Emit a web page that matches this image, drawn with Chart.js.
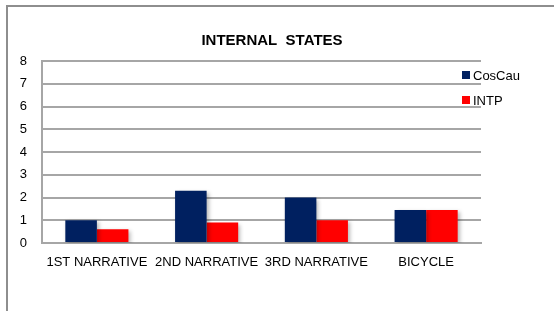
<!DOCTYPE html>
<html>
<head>
<meta charset="utf-8">
<script src="https://cdn.jsdelivr.net/npm/chart.js@4"></script>
<style>
  html, body { margin: 0; padding: 0; background: #fff; }
  #wrap { position: relative; width: 554px; height: 311px; overflow: hidden; }
  #frame { position: absolute; left: 6px; top: 5px; width: 600px; height: 400px;
           border: 2px solid #8e8e8e; box-sizing: border-box; }
  canvas { position: absolute; left: 0; top: 0; }
</style>
</head>
<body>
<div id="wrap">
  <div id="frame"></div>
  <canvas id="chart" width="554" height="311"></canvas>
</div>
<script>
/* Internal states chart — two series per narrative */
const categories = ["1ST NARRATIVE", "2ND NARRATIVE", "3RD NARRATIVE", "BICYCLE"];
const cosCau = [1.0, 2.3, 2.0, 1.45];
const intp = [0.6, 0.9, 1.0, 1.45];
const yTicks = [0, 1, 2, 3, 4, 5, 6, 7, 8];
const titleText = "INTERNAL  STATES";

const FONT = "'Liberation Sans', Arial, sans-serif";
const GRID = "#a6a6a6";

/* ---------- title + legend drawn by hand (the title sits over the whole frame) ---------- */
const overlay = {
  id: "overlay",
  afterDraw(chart) {
    const ctx = chart.ctx;
    ctx.save();
    ctx.fillStyle = "#000";
    ctx.font = "bold 15px " + FONT;
    ctx.textAlign = "center";
    ctx.textBaseline = "middle";
    ctx.fillText(titleText, 272, 41);

    ctx.font = "13px " + FONT;
    ctx.textAlign = "left";
    chart.data.datasets.forEach((ds, i) => {
      const y = 75 + i * 25;
      ctx.fillStyle = ds.backgroundColor;
      ctx.fillRect(462, y - 4, 8, 8);
      ctx.fillStyle = "#000";
      ctx.fillText(ds.label, 473, y + 1);
    });
    ctx.restore();
  },
};

/* ---------- soft shadow under bars ---------- */
const barShadow = {
  id: "barShadow",
  beforeDatasetsDraw(chart) {
    const ctx = chart.ctx;
    ctx.save();
    ctx.shadowColor = "rgba(0,0,0,0.28)";
    ctx.shadowBlur = 4;
    ctx.shadowOffsetX = 2;
    ctx.shadowOffsetY = 2;
  },
  afterDatasetsDraw(chart) { chart.ctx.restore(); },
};

new Chart(document.getElementById("chart"), {
  type: "bar",
  data: {
    labels: categories,
    datasets: [
      { label: "CosCau", data: cosCau, backgroundColor: "#002060" },
      { label: "INTP", data: intp, backgroundColor: "#ff0000" },
    ],
  },
  options: {
    responsive: false,
    animation: false,
    datasets: { bar: { categoryPercentage: 0.575, barPercentage: 1.0 } },
    layout: { padding: { left: 0, right: 73, top: 61, bottom: 40 } },
    plugins: {
      legend: { display: false },
      tooltip: { enabled: false },
      title: { display: false },
    },
    scales: {
      x: {
        afterFit: (s) => { s.height = 28; },
        grid: { display: false, drawTicks: false },
        border: { color: GRID, width: 2 },
        ticks: { color: "#000", font: { family: FONT, size: 13 }, padding: 12, maxRotation: 0, autoSkip: false },
      },
      y: {
        min: 0,
        max: 8,
        afterBuildTicks: (s) => { s.ticks = yTicks.map((v) => ({ value: v })); },
        afterFit: (s) => { s.width = 42; },
        grid: { color: GRID, lineWidth: 2, drawTicks: false },
        border: { color: GRID, width: 2 },
        ticks: { color: "#000", font: { family: FONT, size: 13 }, padding: 15 },
      },
    },
  },
  plugins: [barShadow, overlay],
});
</script>
</body>
</html>
